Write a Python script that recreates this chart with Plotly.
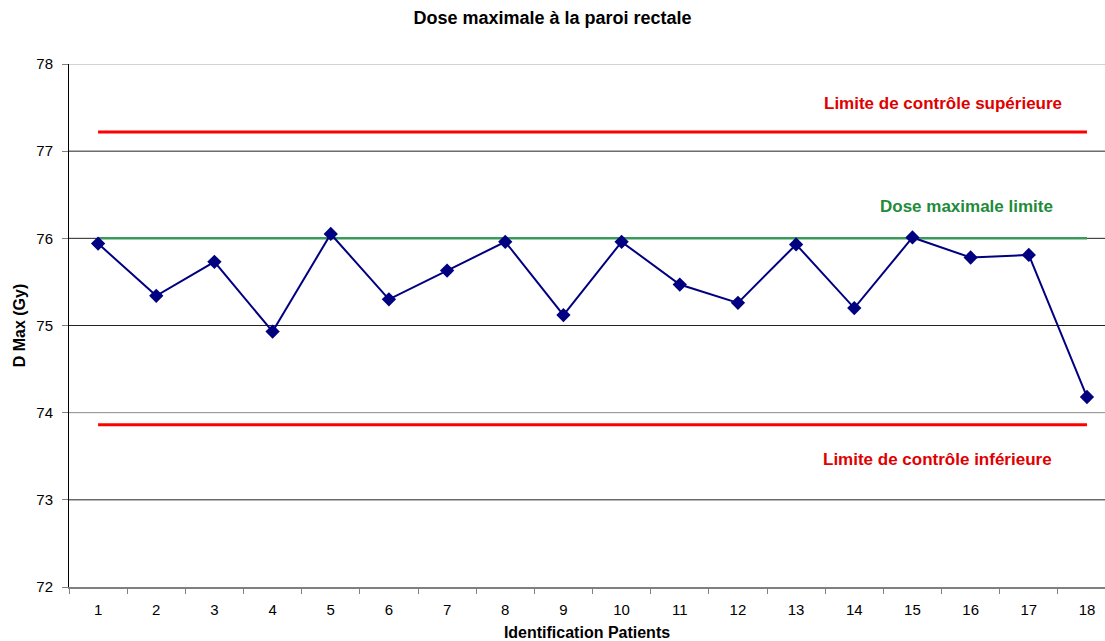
import plotly.graph_objects as go

patients = [str(i) for i in range(1, 19)]
dose_max = [75.94, 75.34, 75.73, 74.93, 76.05, 75.30, 75.63, 75.96, 75.12,
            75.96, 75.47, 75.26, 75.93, 75.20, 76.01, 75.78, 75.81, 74.18]
limite_sup = 77.22
limite_inf = 73.86
dose_limite = 76.0
y_ticks = [72, 73, 74, 75, 76, 77, 78]
grid_colors = ["#808080", "#222222", "#8a8a8a", "#222222", "#222222", "#222222", "#a8a8a8"]

font = "Liberation Sans, Arial, sans-serif"

fig = go.Figure()
for yv, col in zip(y_ticks[1:], grid_colors[1:]):
    fig.add_shape(type="line", xref="paper", x0=0, x1=1, yref="y", y0=yv, y1=yv,
                  line=dict(color=col, width=1), layer="below")

fig.add_trace(go.Scatter(x=patients, y=[limite_sup] * len(patients), mode="lines",
                         line=dict(color="#ff0000", width=3), hoverinfo="skip", showlegend=False))
fig.add_trace(go.Scatter(x=patients, y=[limite_inf] * len(patients), mode="lines",
                         line=dict(color="#ff0000", width=3), hoverinfo="skip", showlegend=False))
fig.add_trace(go.Scatter(x=patients, y=[dose_limite] * len(patients), mode="lines",
                         line=dict(color="#3a9a5a", width=2.5), hoverinfo="skip", showlegend=False))
fig.add_trace(go.Scatter(x=patients, y=dose_max, mode="lines+markers",
                         line=dict(color="#000080", width=2),
                         marker=dict(symbol="diamond", size=11, color="#000080"),
                         showlegend=False))

fig.add_annotation(x=0.8436, xref="paper", xanchor="center", y=77.55, yref="y",
                   text="<b>Limite de contrôle supérieure</b>",
                   showarrow=False, font=dict(family=font, size=17, color="#e00000"))
fig.add_annotation(x=0.866, xref="paper", xanchor="center", y=76.37, yref="y",
                   text="<b>Dose maximale limite</b>",
                   showarrow=False, font=dict(family=font, size=17, color="#228b3a"))
fig.add_annotation(x=0.838, xref="paper", xanchor="center", y=73.46, yref="y",
                   text="<b>Limite de contrôle inférieure</b>",
                   showarrow=False, font=dict(family=font, size=17, color="#e00000"))

fig.update_layout(
    width=1105, height=641,
    margin=dict(l=69, r=0, t=64, b=54),
    paper_bgcolor="white", plot_bgcolor="white",
    font=dict(family=font, size=15, color="black"),
    title=dict(text="<b>Dose maximale à la paroi rectale</b>", x=0.5, xanchor="center",
               y=0.972, yanchor="middle", font=dict(family=font, size=18, color="black")),
    xaxis=dict(type="category", range=[-0.5, 17.31], tickson="boundaries",
               ticks="outside", ticklen=5, tickcolor="#808080", ticklabelstandoff=8,
               showline=True, linecolor="#808080", linewidth=2, showgrid=False,
               title=dict(text="<b>Identification Patients</b>", font=dict(family=font, size=16), standoff=10),
               tickfont=dict(family=font, size=15)),
    yaxis=dict(range=[72, 78], tickvals=y_ticks, ticks="outside", ticklen=6, tickcolor="#808080",
               ticklabelstandoff=6,
               showline=True, linecolor="black", linewidth=1,
               showgrid=False, zeroline=False,
               title=dict(text="<b>D Max (Gy)</b>", font=dict(family=font, size=16), standoff=6),
               tickfont=dict(family=font, size=15)),
)

fig.write_html("out.html", config={"displayModeBar": False},
               post_script="document.body.style.margin='0';document.body.style.overflow='hidden';")
